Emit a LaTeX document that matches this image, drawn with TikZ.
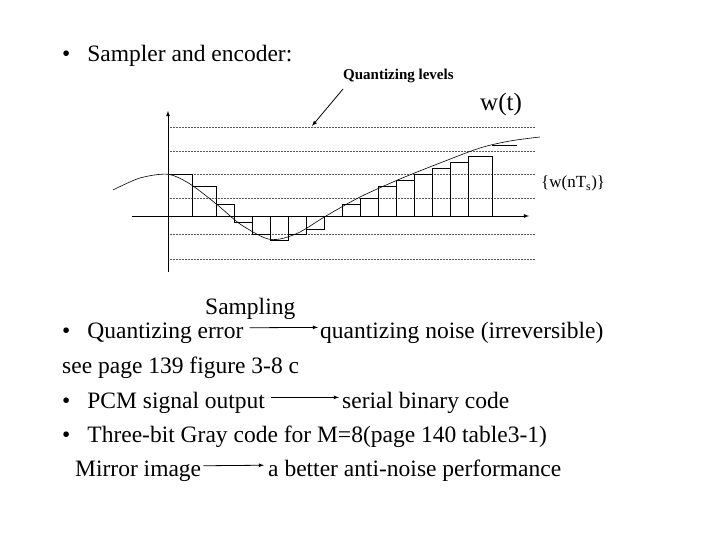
\documentclass[tikz,border=0pt]{standalone}
\usepackage{fontspec}
\setmainfont{Liberation Serif}
\begin{document}
\begin{tikzpicture}[x=1pt,y=-1pt,
  txt/.style={anchor=base west,inner sep=0pt,font=\fontsize{23.5}{28}\selectfont},
  lvl/.style={densely dotted,line width=0.5pt,gray!70!black},
  bar/.style={line width=0.7pt},
  arr/.style={-latex,line width=0.8pt}]
\useasboundingbox (0,0) rectangle (720,540);
% quantizing levels
\foreach \y in {127,151,174,198,234,259} \draw[lvl] (168,\y) -- (535,\y);
% bars
\foreach \a/\b/\h in {168.3/192.7/174.3,192.7/216.7/186.7,216.7/234.3/204.3,234.3/252.3/222.3,252.3/270.7/234,270.7/288.7/240,288.7/306.7/234,306.7/324.7/229,342.7/360.7/204.3,360.7/378.7/198.3,378.7/396.7/186.7,396.7/414.7/180.3,414.7/432.7/174.3,432.7/450.7/168.3,450.7/468.7/162.3,468.7/492/156.3}
  \draw[bar] (\a,216) rectangle (\b,\h);
\draw[bar] (492,145) -- (517,145);
% curve
\draw[line width=0.6pt] plot[smooth] coordinates {(113,190) (140,178) (168,174.3) (190,184) (216.7,204.3) (240,224) (265,238) (280,239) (300,232) (326,216) (360,197) (400,179) (440,163) (480,148) (510,141) (540,137)};
% axes
\draw[arr] (168,272) -- (168,111);
\draw[arr] (132,216) -- (529,216);
% labels
\node[anchor=base west,inner sep=0pt,font=\bfseries\fontsize{15}{18}\selectfont] (ql) at (343,80) {Quantizing levels};
\coordinate (qa) at (343,89);
\coordinate (qb) at (312,126);
\draw[arr] (qa) -- (qb);
\node[anchor=base west,inner sep=0pt,font=\fontsize{25}{30}\selectfont] (wt) at (480,111) {w(t)};
\node[anchor=base west,inner sep=0pt,font=\fontsize{17}{20}\selectfont] (ws) at (541,188) {\{w(nT\textsubscript{s})\}};
% text lines
\node[txt] (t1) at (62,62) {•\hspace{17pt}Sampler and encoder:};
\node[txt] (t2) at (205,314) {Sampling};
\node[txt] (t3a) at (62,338) {•\hspace{17pt}Quantizing error};
\node[txt] (t3b) at (320,338) {quantizing noise (irreversible)};
\node[txt] (t4) at (62,373) {see page 139 figure 3-8 c};
\node[txt] (t5a) at (62,408) {•\hspace{17pt}PCM signal output};
\node[txt] (t5b) at (342,408) {serial binary code};
\node[txt] (t6) at (62,442) {•\hspace{17pt}Three-bit Gray code for M=8(page 140 table3-1)};
\node[txt] (t7a) at (75,476) {Mirror image};
\node[txt] (t7b) at (268,476) {a better anti-noise performance};
\draw[arr] ([xshift=6pt,yshift=5pt]t3a.east) -- ([xshift=-2pt,yshift=5pt]t3b.west);
\draw[arr] ([xshift=6pt,yshift=5pt]t5a.east) -- ([xshift=-3pt,yshift=5pt]t5b.west);
\draw[arr] ([xshift=2pt,yshift=5pt]t7a.east) -- ([xshift=-4pt,yshift=5pt]t7b.west);
\end{tikzpicture}
\end{document}
